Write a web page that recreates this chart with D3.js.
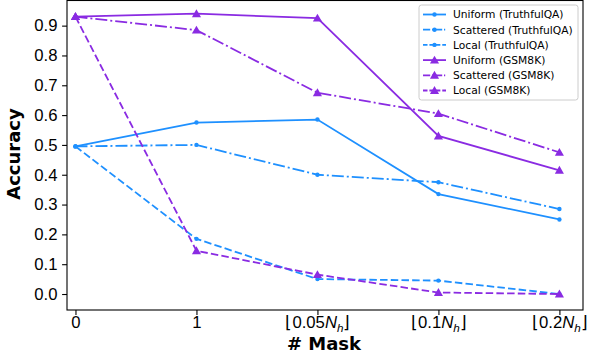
<!DOCTYPE html>
<html>
<head>
<meta charset="utf-8">
<script src="https://cdn.jsdelivr.net/npm/d3@7"></script>
<style>
  body { margin: 0; background: #fff; }
  svg { font-family: "DejaVu Sans", sans-serif; }
</style>
</head>
<body>
<svg id="chart" width="589" height="360"></svg>
<script>
// x categories (tick labels are built with tspans below)
const categories = ["0", "1", "0.05", "0.1", "0.2"];

const uniformTQA   = [0.495, 0.575, 0.585, 0.335, 0.250];
const scatteredTQA = [0.495, 0.500, 0.400, 0.375, 0.285];
const localTQA     = [0.495, 0.185, 0.050, 0.045, 0.000];
const uniformGSM   = [0.930, 0.940, 0.925, 0.530, 0.415];
const scatteredGSM = [0.930, 0.885, 0.675, 0.605, 0.475];
const localGSM     = [0.930, 0.145, 0.065, 0.005, 0.000];

const yTicks = [0, 0.1, 0.2, 0.3, 0.4, 0.5, 0.6, 0.7, 0.8, 0.9];

const BLUE = "#1e90ff", PURPLE = "#8a2be2";
const SOLID = null, DASHDOT = "12,3,2,3", DASHED = "7.5,3.2";

const series = [
    { name: "Uniform (TruthfulQA)", values: uniformTQA, color: BLUE, dash: SOLID, marker: "dot" },
    { name: "Scattered (TruthfulQA)", values: scatteredTQA, color: BLUE, dash: DASHDOT, marker: "dot" },
    { name: "Local (TruthfulQA)", values: localTQA, color: BLUE, dash: DASHED, marker: "dot" },
    { name: "Uniform (GSM8K)", values: uniformGSM, color: PURPLE, dash: SOLID, marker: "tri" },
    { name: "Scattered (GSM8K)", values: scatteredGSM, color: PURPLE, dash: DASHDOT, marker: "tri" },
    { name: "Local (GSM8K)", values: localGSM, color: PURPLE, dash: DASHED, marker: "tri" },
];

const svg = d3.select("#chart");
const plot = { left: 67, right: 583, top: 0.5, bottom: 310 };

const x = d3.scaleLinear().domain([-0.07, 4.195]).range([plot.left, plot.right]);
const y = d3.scaleLinear().domain([-0.0536, 0.9843]).range([plot.bottom, plot.top]);

// axes
const xAxis = d3.axisBottom(x).tickValues(d3.range(categories.length)).tickSize(4.9).tickFormat("");
const yAxis = d3.axisLeft(y).tickValues(yTicks).tickSize(4.9).tickFormat(d3.format(".1f"));

const gx = svg.append("g").attr("transform", `translate(0,${plot.bottom})`).call(xAxis);
const gy = svg.append("g").attr("transform", `translate(${plot.left},0)`).call(yAxis);
[gx, gy].forEach(g => {
    g.select(".domain").remove();
    g.selectAll(".tick line").attr("stroke", "#000").attr("stroke-width", 1.1);
});
gy.selectAll(".tick text").attr("font-size", 16.7).attr("fill", "#000").attr("x", -9.5);

// x tick labels with math-like formatting
gx.selectAll(".tick").each(function(d, i) {
    const t = d3.select(this).append("text")
        .attr("y", 18).attr("text-anchor", "middle")
        .attr("font-size", 16.7).attr("fill", "#000");
    if (i < 2) {
        t.text(categories[i]);
    } else {
        t.append("tspan").text("\u230A" + categories[i]);
        t.append("tspan").attr("font-style", "italic").text("N");
        t.append("tspan").attr("font-style", "italic").attr("font-size", 11.7).attr("dy", 3.5).text("h");
        t.append("tspan").attr("dy", -3.5).text("\u230B");
    }
});

// frame
svg.append("rect")
    .attr("x", plot.left).attr("y", plot.top)
    .attr("width", plot.right - plot.left).attr("height", plot.bottom - plot.top)
    .attr("fill", "none").attr("stroke", "#000").attr("stroke-width", 1.1);

const line = d3.line().x((d, i) => x(i)).y(d => y(d));
const tri = d3.symbol().type(d3.symbolTriangle).size(36);

function drawMarkers(g, s, pts) {
    if (s.marker === "dot") {
        g.selectAll("circle").data(pts).join("circle")
            .attr("cx", d => d[0]).attr("cy", d => d[1]).attr("r", 2.2)
            .attr("fill", s.color);
    } else {
        g.selectAll("path.m").data(pts).join("path").attr("class", "m")
            .attr("transform", d => `translate(${d[0]},${d[1] + 0.8})`)
            .attr("d", tri).attr("fill", s.color);
    }
}

series.forEach(s => {
    const g = svg.append("g");
    g.append("path").datum(s.values)
        .attr("d", line).attr("fill", "none")
        .attr("stroke", s.color).attr("stroke-width", 1.8)
        .attr("stroke-dasharray", s.dash);
    drawMarkers(g, s, s.values.map((v, i) => [x(i), y(v)]));
});

// legend
const lg = svg.append("g").attr("transform", "translate(419,5)");
lg.append("rect").attr("width", 159).attr("height", 95).attr("rx", 2.5)
    .attr("fill", "#fff").attr("fill-opacity", 0.8)
    .attr("stroke", "#cccccc").attr("stroke-width", 1);

const legendFont = 10.7;
series.forEach((s, i) => {
    const yy = 9.5 + i * 15.2;
    const g = lg.append("g");
    g.append("line").attr("x1", 4).attr("x2", 27).attr("y1", yy).attr("y2", yy)
        .attr("stroke", s.color).attr("stroke-width", 1.8)
        .attr("stroke-dasharray", s.dash ? s.dash.split(",").map(v => v * 0.6).join(",") : null);
    drawMarkers(g, s, [[15.5, yy]]);
    g.append("text").attr("x", 34).attr("y", yy + 3.9).attr("font-size", legendFont)
        .attr("fill", "#000").text(s.name);
});

// axis labels
svg.append("text").attr("x", 324).attr("y", 350)
    .attr("text-anchor", "middle").attr("font-size", 18).attr("font-weight", "bold")
    .text("# Mask");
svg.append("text").attr("transform", `translate(20,154) rotate(-90)`)
    .attr("text-anchor", "middle").attr("font-size", 18).attr("font-weight", "bold")
    .text("Accuracy");
</script>
</body>
</html>
